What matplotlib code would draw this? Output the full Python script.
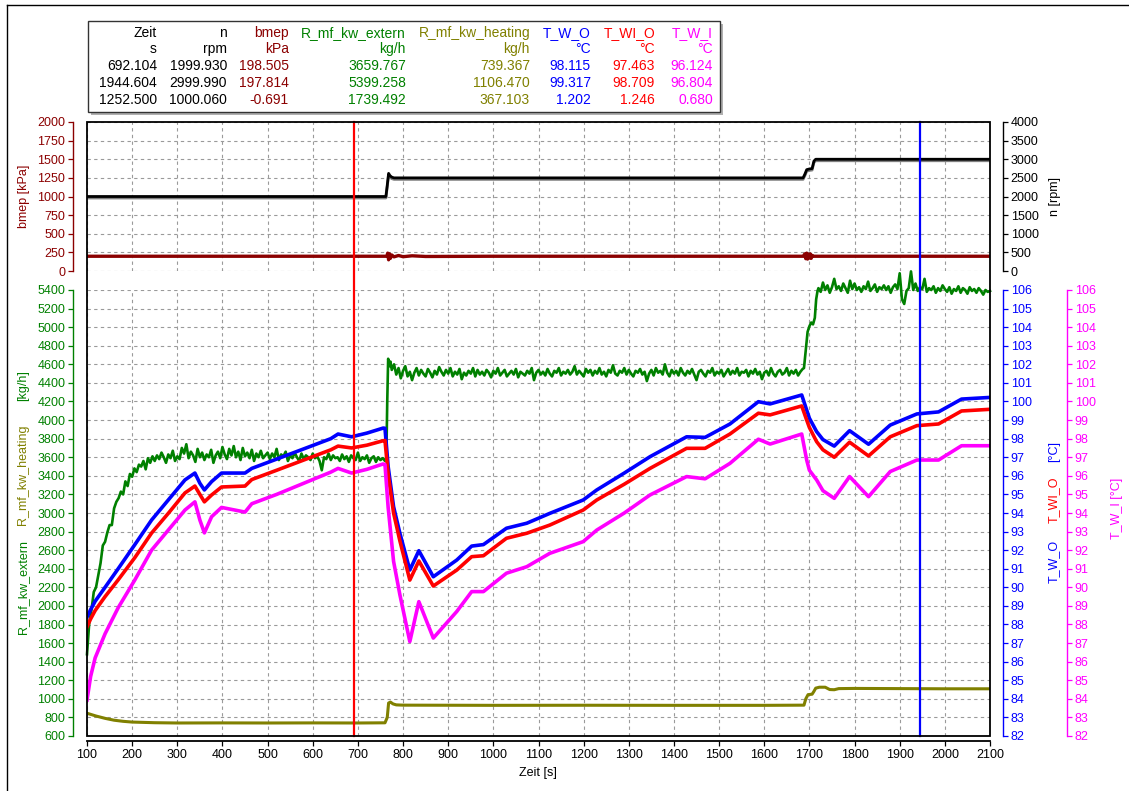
import numpy as np
import matplotlib
matplotlib.use("Agg")
import matplotlib.pyplot as plt
from matplotlib.patches import Rectangle
from matplotlib.lines import Line2D

plt.rcParams['font.family'] = ['Liberation Sans', 'DejaVu Sans']

# colours of the channels
C_BMEP = '#8B0000'
C_N = 'black'
C_EXT = '#008000'
C_HEAT = '#808000'
C_TWO = '#0000FF'
C_TWIO = '#FF0000'
C_TWI = '#FF00FF'

# ---------------- data ----------------
# engine speed n [rpm]
n_t = [100, 762, 765, 768, 771, 775, 780, 1686, 1690, 1694, 1700, 1706, 1710, 1714, 2100]
n_v = [2000, 2000, 2300, 2620, 2560, 2520, 2500, 2500, 2600, 2720, 2740, 2750, 2950, 3000, 3000]

# bmep [kPa]
bmep_t = [100, 764, 766, 768, 770, 772, 775, 780, 790, 800, 820, 850, 1000, 1686, 1690, 1692,
          1694, 1696, 1698, 1700, 1702, 1704, 1706, 1710, 2100]
bmep_v = [198, 198, 240, 150, 230, 170, 215, 190, 208, 192, 204, 195, 198, 198, 230, 165,
          240, 160, 225, 175, 230, 170, 210, 198, 198]

# R_mf_kw_extern [kg/h]
ext_rise = [1480, 1820, 1960, 2150, 2200, 2330, 2460, 2650, 2690, 2790, 2870, 2870, 3050, 3120,
            3160, 3230, 3200, 3340, 3290, 3420, 3390, 3480, 3440, 3520, 3500, 3560, 3470, 3590,
            3540, 3610, 3560]
ext_plat1 = [3620, 3580, 3650, 3600, 3540, 3630, 3590, 3670, 3560, 3610,
             3580, 3700, 3640, 3740, 3590, 3660, 3620, 3550, 3690, 3600,
             3650, 3570, 3630, 3600, 3680, 3540, 3620, 3660, 3590, 3710,
             3630, 3580, 3690, 3620, 3720, 3600, 3660, 3570, 3700, 3610,
             3650, 3590, 3680, 3560, 3640, 3600, 3670, 3590, 3620, 3650,
             3580, 3640, 3600, 3690, 3570, 3630, 3610, 3660, 3560, 3620,
             3590, 3650, 3600, 3560, 3640, 3580, 3620, 3600, 3570, 3640,
             3590, 3610, 3560, 3460, 3600, 3580, 3640, 3570, 3620, 3590,
             3600, 3560, 3630, 3580, 3610, 3550, 3620, 3590, 3570, 3650,
             3560, 3600, 3580, 3620, 3540, 3590, 3610, 3550, 3600, 3570,
             3590, 3560]
ext_step1_t = [763, 765, 767, 770, 772]
ext_step1 = [3600, 4200, 4660, 4580, 4630]
ext_plat2 = [4540, 4600, 4490, 4560, 4450, 4530, 4580, 4470, 4520, 4430,
             4510, 4560, 4480, 4540, 4500, 4470, 4550, 4510, 4460, 4530,
             4490, 4570, 4520, 4480, 4540, 4500, 4560, 4470, 4520, 4490,
             4550, 4440, 4510, 4480, 4530, 4500, 4560, 4470, 4540, 4490,
             4520, 4480, 4540, 4510, 4460, 4530, 4500, 4560, 4480, 4510,
             4540, 4470, 4500, 4530, 4490, 4550, 4460, 4520, 4500, 4480,
             4530, 4500, 4560, 4430, 4510, 4540, 4490, 4520, 4480, 4550,
             4500, 4470, 4530, 4510, 4560, 4480, 4520, 4500, 4540, 4490,
             4520, 4580, 4490, 4530, 4500, 4470, 4550, 4510, 4540, 4480,
             4530, 4500, 4560, 4490, 4520, 4470, 4540, 4510, 4590, 4500,
             4480, 4530, 4510, 4560, 4490, 4540, 4500, 4470, 4530, 4510,
             4550, 4490, 4520, 4420, 4500, 4540, 4480, 4560, 4510, 4530,
             4490, 4600, 4510, 4470, 4540, 4500, 4530, 4480, 4560, 4510,
             4480, 4530, 4500, 4550, 4490, 4430, 4520, 4540, 4500, 4470,
             4530, 4510, 4560, 4480, 4520, 4500, 4540, 4470, 4510, 4550,
             4490, 4530, 4500, 4560, 4480, 4520, 4510, 4540, 4470, 4530,
             4500, 4550, 4490, 4520, 4440, 4510, 4530, 4480, 4560, 4500,
             4470, 4520, 4540, 4490, 4510, 4560, 4480, 4530, 4500, 4540,
             4480, 4520, 4550]
ext_step2_t = [1688, 1692, 1696, 1700, 1704, 1708, 1712, 1715, 1718]
ext_step2 = [4560, 4750, 4950, 5010, 5050, 5030, 5100, 5300, 5390]
ext_plat3 = [5420, 5380, 5480, 5400, 5450, 5370, 5430, 5520, 5410, 5440,
             5390, 5470, 5420, 5370, 5500, 5410, 5470, 5400, 5430, 5380,
             5440, 5410, 5490, 5390, 5420, 5460, 5380, 5430, 5410, 5450,
             5400, 5440, 5370, 5430, 5460, 5410, 5580, 5300, 5250, 5390,
             5420, 5600, 5400, 5470, 5390, 5430, 5410, 5520, 5380, 5420,
             5400, 5440, 5370, 5420, 5390, 5450, 5410, 5380, 5430, 5360,
             5410, 5390, 5440, 5370, 5420, 5400, 5360, 5430, 5390, 5410,
             5370, 5420, 5390, 5350, 5400, 5380, 5390]

# R_mf_kw_heating [kg/h]
heat_t = [100, 120, 140, 160, 180, 200, 250, 300, 400, 500, 600, 700, 760, 765, 768, 772,
          778, 785, 800, 1000, 1200, 1400, 1600, 1688, 1692, 1697, 1706, 1710, 1714, 1722,
          1735, 1745, 1755, 1765, 1800, 1900, 2000, 2100]
heat_v = [845, 815, 790, 770, 758, 750, 743, 740, 741, 740, 741, 740, 742, 800, 955, 965,
          945, 935, 932, 930, 931, 930, 930, 932, 1000, 1045, 1050, 1080, 1115, 1125,
          1125, 1100, 1098, 1110, 1112, 1110, 1108, 1108]

# temperatures [°C]
temp_t = [100, 108, 118, 140, 169, 206, 243, 280, 317, 339, 350, 360, 376, 398, 450, 465, 520,
          580, 640, 656, 686, 720, 756, 760, 767, 779, 793, 815, 835, 867, 919, 952, 978,
          1029, 1074, 1125, 1199, 1229, 1290, 1347, 1428, 1469, 1524, 1587, 1613, 1683,
          1694, 1700, 1716, 1730, 1755, 1789, 1831, 1879, 1938, 1986, 2037, 2100]
t_w_o = [88.4, 88.8, 89.25, 90.0, 91.0, 92.3, 93.62, 94.7, 95.78, 96.15, 95.6, 95.24, 95.69,
         96.15, 96.15, 96.4, 96.9, 97.45, 98.0, 98.25, 98.1, 98.3, 98.57, 98.56, 96.5,
         94.34, 92.91, 90.93, 91.97, 90.57, 91.47, 92.22, 92.3, 93.18, 93.45, 93.98, 94.7,
         95.24, 96.15, 97.03, 98.1, 98.07, 98.79, 99.99, 99.87, 100.35, 99.54, 99.1, 98.38,
         97.95, 97.6, 98.43, 97.7, 98.73, 99.33, 99.44, 100.13, 100.22]
t_wi_o = [87.87, 88.3, 88.75, 89.5, 90.4, 91.6, 92.92, 93.98, 95.08, 95.45, 95.0, 94.6, 94.97,
          95.4, 95.45, 95.8, 96.3, 96.85, 97.4, 97.6, 97.5, 97.65, 97.89, 97.9, 96.1,
          94.0, 92.5, 90.39, 91.42, 90.07, 90.93, 91.65, 91.7, 92.64, 92.91, 93.35, 94.16,
          94.7, 95.55, 96.4, 97.48, 97.48, 98.25, 99.37, 99.28, 99.76, 99.0, 98.6, 97.84,
          97.4, 97.0, 97.81, 97.07, 98.1, 98.7, 98.79, 99.49, 99.58]
t_w_i = [83.94, 85.2, 86.2, 87.5, 88.9, 90.4, 92.0, 93.08, 94.16, 94.6, 93.62, 92.93, 93.8,
         94.3, 94.05, 94.5, 95.0, 95.6, 96.2, 96.4, 96.15, 96.35, 96.64, 96.6, 94.3,
         91.4, 89.6, 87.08, 89.23, 87.27, 88.7, 89.77, 89.77, 90.76, 91.11, 91.83, 92.46,
         93.08, 94.0, 94.97, 95.96, 95.84, 96.67, 97.97, 97.71, 98.25, 96.85, 96.3, 95.78,
         95.2, 94.79, 95.96, 94.88, 96.23, 96.85, 96.85, 97.62, 97.62]

# cursors
cursor1 = 692.104
cursor2 = 1944.604

# table of the cursor readout
tab_names = ['Zeit', 'n', 'bmep', 'R_mf_kw_extern', 'R_mf_kw_heating', 'T_W_O', 'T_WI_O', 'T_W_I']
tab_units = ['s', 'rpm', 'kPa', 'kg/h', 'kg/h', '°C', '°C', '°C']
tab_row1 = ['692.104', '1999.930', '198.505', '3659.767', '739.367', '98.115', '97.463', '96.124']
tab_row2 = ['1944.604', '2999.990', '197.814', '5399.258', '1106.470', '99.317', '98.709', '96.804']
tab_row3 = ['1252.500', '1000.060', '-0.691', '1739.492', '367.103', '1.202', '1.246', '0.680']
tab_colors = ['black', 'black', C_BMEP, C_EXT, C_HEAT, C_TWO, C_TWIO, C_TWI]
tab_xright = [157, 227, 289, 406, 530, 591, 655, 713]

# ---------------- figure ----------------
W, H = 1129, 791
fig = plt.figure(figsize=(W / 100, H / 100), dpi=100)


def fx(px):
    return px / W


def fy(py):
    return 1 - py / H


PT = 72 / 100  # points per pixel
GRID = dict(color='#9a9a9a', linestyle=(0, (3, 3)), linewidth=0.8)
TICK = dict(direction='out', length=5 * PT, width=0.9, labelsize=9, pad=2)


def only_spine(ax, side, color, offset_px):
    for s in ax.spines.values():
        s.set_visible(False)
    sp = ax.spines[side]
    sp.set_visible(True)
    sp.set_color(color)
    sp.set_linewidth(1.0)
    sp.set_position(('outward', offset_px * PT))


x_ticks = list(range(100, 2101, 100))

# ---- top panel: bmep / n ----
ax_b = fig.add_axes([fx(87), fy(271), fx(990) - fx(87), (271 - 122) / H])
ax_b.set_xlim(100, 2100)
ax_b.set_ylim(0, 2000)
ax_b.set_xticks(x_ticks)
ax_b.set_yticks(range(0, 2001, 250))
ax_b.grid(True, **GRID)
ax_b.tick_params(axis='x', length=0, labelbottom=False)
ax_b.tick_params(axis='y', colors=C_BMEP, **TICK)
only_spine(ax_b, 'left', C_BMEP, 14)
ax_b.plot(bmep_t, bmep_v, color=C_BMEP, lw=2.4)

ax_n = ax_b.twinx()
ax_n.set_ylim(0, 4000)
ax_n.set_yticks(range(0, 4001, 500))
ax_n.tick_params(axis='y', colors=C_N, **TICK)
only_spine(ax_n, 'right', C_N, 13)
ax_n.plot(n_t, n_v, color='#808080', lw=2.0, zorder=1.9, transform=ax_n.transData +
          matplotlib.transforms.ScaledTranslation(0, -1.5 / 100, fig.dpi_scale_trans))
ax_n.plot(n_t, n_v, color=C_N, lw=2.0)

# ---- bottom panel: mass flows / temperatures ----
ax_m = fig.add_axes([fx(87), fy(736), fx(990) - fx(87), (736 - 290) / H])
ax_m.set_xlim(100, 2100)
ax_m.set_ylim(600, 5400)
ax_m.set_xticks(x_ticks)
ax_m.set_yticks(range(600, 5401, 200))
ax_m.grid(True, **GRID)
ax_m.tick_params(axis='y', colors=C_EXT, **TICK)
ax_m.tick_params(axis='x', colors='black', **TICK)
only_spine(ax_m, 'left', C_EXT, 14)
ax_m.spines['bottom'].set_visible(True)
ax_m.spines['bottom'].set_linewidth(1.3)
ax_m.spines['bottom'].set_position(('outward', 5 * PT))

ext_t = np.concatenate([np.arange(100, 251, 5), np.arange(255, 761, 5), ext_step1_t,
                        np.arange(775, 1686, 5), ext_step2_t, np.arange(1720, 2101, 5)])
ext_v = ext_rise + ext_plat1 + ext_step1 + ext_plat2 + ext_step2 + ext_plat3
ax_m.plot(ext_t, ext_v, color=C_EXT, lw=1.9, clip_on=False)
ax_m.plot(heat_t, heat_v, color=C_HEAT, lw=2.2)

ax_t = ax_m.twinx()
ax_t.set_ylim(82, 106)
ax_t.set_yticks(range(82, 107))
ax_t.tick_params(axis='y', colors=C_TWO, **TICK)
only_spine(ax_t, 'right', C_TWO, 13)
ax_t.plot(temp_t, t_w_o, color=C_TWO, lw=2.6)
ax_t.plot(temp_t, t_wi_o, color=C_TWIO, lw=2.6)

ax_i = ax_m.twinx()
ax_i.set_ylim(82, 106)
ax_i.set_yticks(range(82, 107))
ax_i.tick_params(axis='y', colors=C_TWI, **TICK)
only_spine(ax_i, 'right', C_TWI, 77)
ax_i.plot(temp_t, t_w_i, color=C_TWI, lw=2.6)

# cursors run through both panels
span = (736 - 122) / (736 - 290)
ax_i.axvline(cursor1, ymin=0, ymax=span, color='#FF0000', lw=1.6, zorder=5, clip_on=False)
ax_i.axvline(cursor2, ymin=0, ymax=span, color='#0000FF', lw=1.6, zorder=5, clip_on=False)

# one frame around both panels
fig.add_artist(Rectangle((fx(87), fy(736)), fx(990) - fx(87), (736 - 122) / H,
                         transform=fig.transFigure, fill=False, edgecolor='black',
                         linewidth=1.3, zorder=10))

# ---- axis labels ----
fig.text(fx(538), fy(773), 'Zeit [s]', ha='center', va='center', fontsize=9)
fig.text(fx(24), fy(196), 'bmep [kPa]', rotation=90, ha='center', va='center',
         fontsize=9, color=C_BMEP)
fig.text(fx(1055), fy(196), 'n [rpm]', rotation=90, ha='center', va='center',
         fontsize=9, color=C_N)
fig.text(fx(23), fy(587), 'R_mf_kw_extern', rotation=90, ha='center', va='center',
         fontsize=9, color=C_EXT)
fig.text(fx(23), fy(475), 'R_mf_kw_heating', rotation=90, ha='center', va='center',
         fontsize=9, color=C_HEAT)
fig.text(fx(23), fy(386), '[kg/h]', rotation=90, ha='center', va='center',
         fontsize=9, color=C_EXT)
fig.text(fx(1054), fy(561), 'T_W_O', rotation=90, ha='center', va='center',
         fontsize=9, color=C_TWO)
fig.text(fx(1054), fy(500), 'T_WI_O', rotation=90, ha='center', va='center',
         fontsize=9, color=C_TWIO)
fig.text(fx(1054), fy(452), '[°C]', rotation=90, ha='center', va='center',
         fontsize=9, color=C_TWO)
fig.text(fx(1117), fy(508), 'T_W_I [°C]', rotation=90, ha='center', va='center',
         fontsize=9, color=C_TWI)

# ---- cursor readout table ----
fig.add_artist(Rectangle((fx(91), fy(115)), (720 - 88) / W, (112 - 21) / H,
                         transform=fig.transFigure, facecolor='#b0b0b0', edgecolor='none'))
fig.add_artist(Rectangle((fx(88), fy(112)), (720 - 88) / W, (112 - 21) / H,
                         transform=fig.transFigure, facecolor='white', edgecolor='#333333',
                         linewidth=1.0))
rows_y = [33, 49, 66, 83, 100]
for i in range(len(tab_names)):
    col = [tab_names[i], tab_units[i], tab_row1[i], tab_row2[i], tab_row3[i]]
    for txt, yy in zip(col, rows_y):
        fig.text(fx(tab_xright[i]), fy(yy), txt, ha='right', va='center',
                 fontsize=10, color=tab_colors[i])

# ---- outer border ----
fig.add_artist(Line2D([fx(6.5), fx(6.5)], [0, fy(5)], transform=fig.transFigure,
                      color='black', lw=1.0))
fig.add_artist(Line2D([fx(6.5), 1], [fy(5), fy(5)], transform=fig.transFigure,
                      color='black', lw=1.0))

fig.savefig('out.png', dpi=100)
